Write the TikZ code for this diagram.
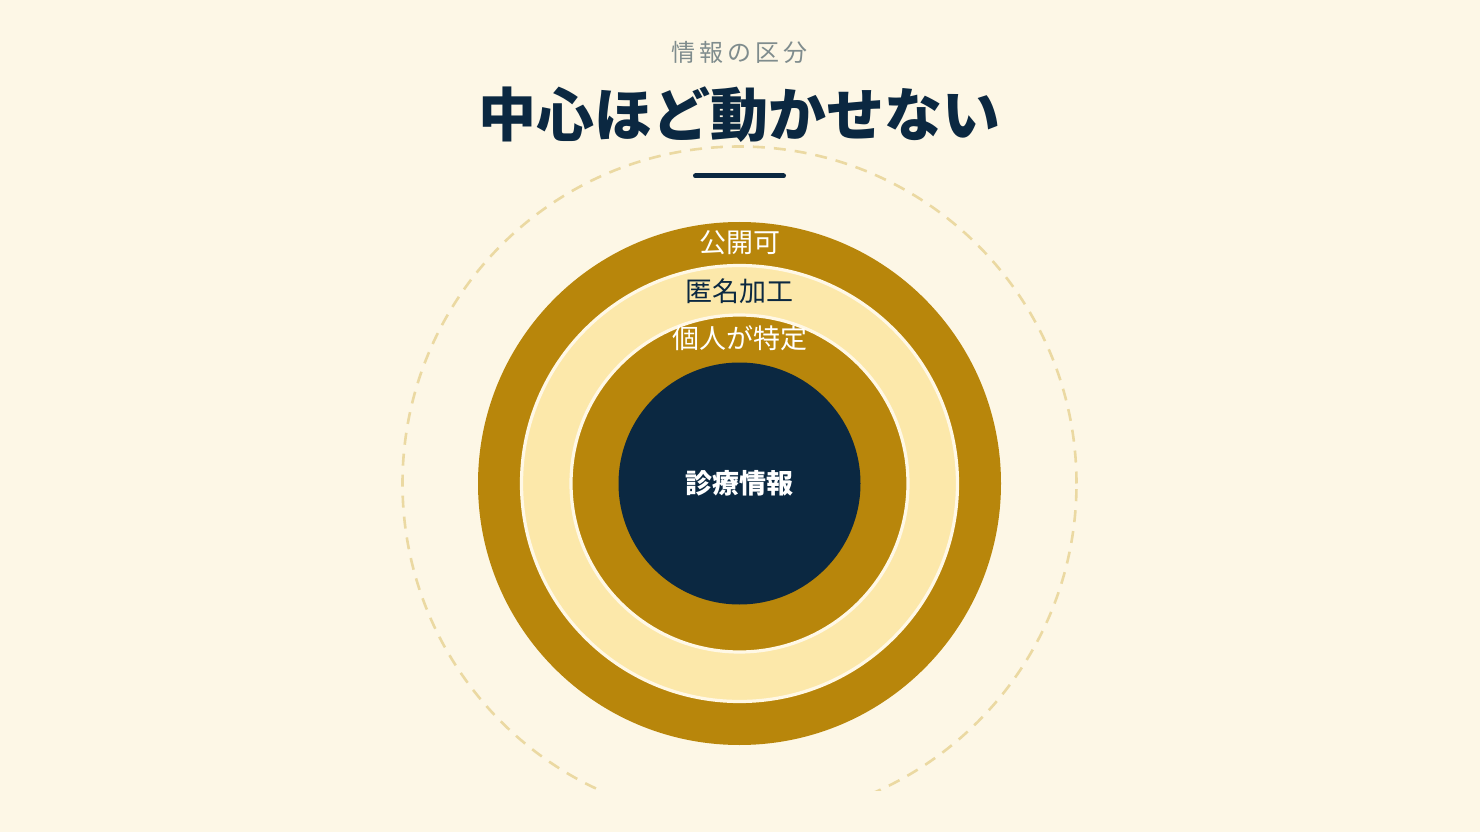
\documentclass[tikz,border=0pt]{standalone}
\usepackage{fontspec}
\setmainfont{Noto Sans CJK JP}
\definecolor{bg}{HTML}{FDF7E6}
\definecolor{gold}{HTML}{B8860B}
\definecolor{lightgold}{HTML}{FCE8AA}
\definecolor{navy}{HTML}{0B2841}
\definecolor{dashc}{HTML}{EBD9A2}
\definecolor{subgray}{HTML}{7F8C8D}
\definecolor{ringline}{HTML}{FFF8E6}
\begin{document}
\begin{tikzpicture}[x=0.5pt,y=0.5pt,
  lbl/.style={inner sep=0pt,font=\fontsize{13.5pt}{16pt}\selectfont},
  ringsep/.style={draw=ringline,line width=1.6pt}]
\useasboundingbox (0,0) rectangle (1480,832);
\fill[bg] (0,0) rectangle (1480,832);
\coordinate (c) at (739.5,348.5);
% dashed outer circle, clipped at bottom
\begin{scope}
\clip (0,42) rectangle (1480,832);
\draw[dashc,line width=1.3pt,dash pattern=on 6pt off 4.5pt] (c) circle (337);
\end{scope}
\fill[gold] (c) circle (261.5);
\fill[lightgold] (c) circle (218);
\draw[ringsep] (c) circle (218);
\fill[gold] (c) circle (168.5);
\draw[ringsep] (c) circle (168.5);
\fill[navy] (c) circle (121);
% titles
\node[inner sep=0pt,text=subgray,font=\fontsize{12pt}{14pt}\selectfont] (sub) at (739.5,780) {情\,報\,の\,区\,分};
\node[inner sep=0pt,text=navy,font=\fontsize{29pt}{34pt}\selectfont\bfseries] (title) at (739.5,717) {中心ほど動かせない};
\coordinate (la) at (695.5,656);
\coordinate (lb) at (783.5,656);
\draw[navy,line width=2.5pt,line cap=round] (la) -- (lb);
% labels
\node[lbl,text=white] (l1) at (739.5,589) {公開可};
\node[lbl,text=navy] (l2) at (739.5,541) {匿名加工};
\node[lbl,text=white] (l3) at (739.5,494) {個人が特定};
\node[lbl,text=white,font=\fontsize{13.5pt}{16pt}\selectfont\bfseries] (core) at (c) {診療情報};
\end{tikzpicture}
\end{document}
